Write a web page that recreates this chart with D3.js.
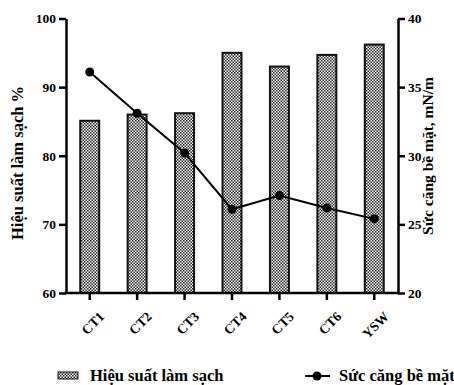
<!DOCTYPE html>
<html><head><meta charset="utf-8">
<script src="https://cdn.jsdelivr.net/npm/d3@7"></script>
<style>body{margin:0;background:#fff}svg{display:block}text{font-family:"Liberation Serif","Times New Roman",serif;font-weight:bold;fill:#000}</style>
</head><body><svg id="c" width="454" height="385"></svg>
<script>
const categories = ["CT1","CT2","CT3","CT4","CT5","CT6","YSW"];
const efficiency = [85.1, 86.0, 86.2, 95.0, 93.0, 94.7, 96.2];
const tension = [36.1, 33.1, 30.2, 26.1, 27.1, 26.2, 25.4];
const leftTicks = [60, 70, 80, 90, 100];
const rightTicks = [20, 25, 30, 35, 40];
const leftTitle = "Hiệu suất làm sạch %";
const rightTitle = "Sức căng bề mặt, mN/m";
const legendLabels = ["Hiệu suất làm sạch", "Sức căng bề mặt, mN/m"];

const svg = d3.select("#c");
const L = 66, R = 398, T = 18.5, B = 293;

const defs = svg.append("defs");
const pat = defs.append("pattern").attr("id","chk").attr("patternUnits","userSpaceOnUse").attr("width",3).attr("height",3);
pat.append("rect").attr("width",3).attr("height",3).attr("fill","#fff");
pat.append("rect").attr("width",1.5).attr("height",1.5).attr("fill","#222");
pat.append("rect").attr("x",1.5).attr("y",1.5).attr("width",1.5).attr("height",1.5).attr("fill","#222");

const x = d3.scaleBand().domain(categories).range([L, R]).paddingInner(0.6).paddingOuter(0.3);
const yL = d3.scaleLinear().domain([60, 100]).range([B, T]);
const yR = d3.scaleLinear().domain([20, 40]).range([B, T]);

// bars
svg.append("g").selectAll("rect").data(categories).join("rect")
  .attr("x", d => x(d)).attr("width", x.bandwidth())
  .attr("y", (d,i) => yL(efficiency[i])).attr("height", (d,i) => B - yL(efficiency[i]))
  .attr("fill","url(#chk)").attr("stroke","#111").attr("stroke-width",2);

// line
const cx = d => x(d) + x.bandwidth()/2;
svg.append("path").datum(categories)
  .attr("d", d3.line().x(d => cx(d)).y((d,i) => yR(tension[i])))
  .attr("fill","none").attr("stroke","#000").attr("stroke-width",2);
svg.append("g").selectAll("circle").data(categories).join("circle")
  .attr("cx", d => cx(d)).attr("cy", (d,i) => yR(tension[i])).attr("r",4.5).attr("fill","#000");

function styleAxis(g){
  g.selectAll(".domain").attr("stroke","#000").attr("stroke-width",2.5);
  g.selectAll(".tick line").attr("stroke","#000").attr("stroke-width",2.5);
  g.selectAll(".tick text").style("font-size","13.5px");
}
const gl = svg.append("g").attr("transform",`translate(${L},0)`)
  .call(d3.axisLeft(yL).tickValues(leftTicks).tickSize(7).tickSizeOuter(0).tickPadding(3));
styleAxis(gl);
const gr = svg.append("g").attr("transform",`translate(${R},0)`)
  .call(d3.axisRight(yR).tickValues(rightTicks).tickSize(7).tickSizeOuter(0).tickPadding(3));
styleAxis(gr);
const gb = svg.append("g").attr("transform",`translate(0,${B})`)
  .call(d3.axisBottom(x).tickSize(7).tickSizeOuter(0).tickPadding(3));
styleAxis(gb);
gb.select(".domain").attr("d", `M${L-1.25},0H${R+1.25}`);
gb.selectAll(".tick text").attr("text-anchor","end").attr("dy","0.35em")
  .attr("transform","translate(5,14) rotate(-45)").style("font-size","13.5px");

svg.append("text").attr("transform",`translate(23,163) rotate(-90)`)
  .attr("text-anchor","middle").style("font-size","16.5px").text(leftTitle);
svg.append("text").attr("transform",`translate(433,156) rotate(-90)`)
  .attr("text-anchor","middle").style("font-size","15.5px").text(rightTitle);

// legend
const ly = 376;
svg.append("rect").attr("x",58).attr("y",ly-4).attr("width",20).attr("height",7)
  .attr("fill","url(#chk)").attr("stroke","#111").attr("stroke-width",1);
svg.append("text").attr("x",90).attr("y",ly+5).style("font-size","16.5px").text(legendLabels[0]);
svg.append("line").attr("x1",305).attr("x2",330).attr("y1",ly).attr("y2",ly).attr("stroke","#000").attr("stroke-width",2);
svg.append("circle").attr("cx",317).attr("cy",ly).attr("r",4.5).attr("fill","#000");
svg.append("text").attr("x",339).attr("y",ly+5).style("font-size","16.5px").text(legendLabels[1]);
</script></body></html>
